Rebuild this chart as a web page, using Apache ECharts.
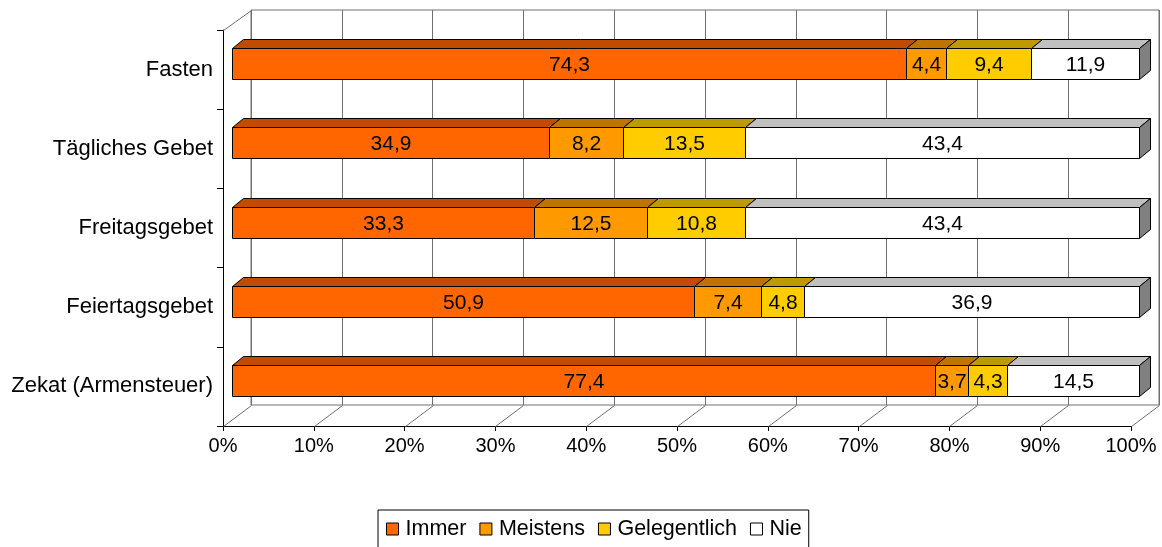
<!DOCTYPE html>
<html>
<head>
<meta charset="utf-8">
<script src="https://cdn.jsdelivr.net/npm/echarts@6/dist/echarts.min.js"></script>
<style>html,body{margin:0;padding:0;background:#fff}#c{width:1162px;height:547px}</style>
</head>
<body>
<div id="c"></div>
<script>
const categories = ['Fasten', 'Tägliches Gebet', 'Freitagsgebet', 'Feiertagsgebet', 'Zekat (Armensteuer)'];
const seriesNames = ['Immer', 'Meistens', 'Gelegentlich', 'Nie'];
const immer = [74.3, 34.9, 33.3, 50.9, 77.4];
const meistens = [4.4, 8.2, 12.5, 7.4, 3.7];
const gelegentlich = [9.4, 13.5, 10.8, 4.8, 4.3];
const nie = [11.9, 43.4, 43.4, 36.9, 14.5];
const xTicks = [0, 10, 20, 30, 40, 50, 60, 70, 80, 90, 100];

const FONT = 'Liberation Sans, Arial, sans-serif';
const frontColors = ['#FF6600', '#FF9900', '#FFCC00', '#FFFFFF'];
const topColors = ['#BF4C00', '#BF7300', '#BF9900', '#C0C0C0'];
const sideColor = '#808080';
const DX = 11, DY = -9, BAR_H = 31;
const WALL_DX = 28, WALL_DY = -21;
const GRID_COLOR = '#707070';

const values = [immer, meistens, gelegentlich, nie];
const totals = categories.map((c, i) => values.reduce((s, arr) => s + arr[i], 0));
const seriesData = values.map((arr, si) => categories.map((c, ci) => {
  let start = 0;
  for (let k = 0; k < si; k++) start += values[k][ci];
  const end = start + arr[ci];
  return [ci, start / totals[ci] * 100, end / totals[ci] * 100, arr[ci]];
}));

const px = v => Math.round(v) + 0.5;

function makeRender(si) {
  const isLast = si === values.length - 1;
  return function (params, api) {
    const ci = api.value(0);
    const a = api.coord([api.value(1), ci]);
    const b = api.coord([api.value(2), ci]);
    const x0 = px(a[0]), x1 = px(b[0]);
    const y0 = px(a[1] - BAR_H / 2), y1 = px(a[1] + BAR_H / 2);
    const stroke = { stroke: '#000', lineWidth: 1, lineJoin: 'miter' };
    const children = [];
    children.push({
      type: 'polygon',
      shape: { points: [[x0, y0], [x0 + DX, y0 + DY], [x1 + DX, y0 + DY], [x1, y0]] },
      style: Object.assign({ fill: topColors[si] }, stroke)
    });
    if (isLast) {
      children.push({
        type: 'polygon',
        shape: { points: [[x1, y0], [x1 + DX, y0 + DY], [x1 + DX, y1 + DY], [x1, y1]] },
        style: Object.assign({ fill: sideColor }, stroke)
      });
    }
    children.push({
      type: 'rect',
      shape: { x: x0, y: y0, width: x1 - x0, height: y1 - y0 },
      style: Object.assign({ fill: frontColors[si] }, stroke)
    });
    children.push({
      type: 'text',
      style: {
        text: api.value(3).toFixed(1).replace('.', ','),
        x: (x0 + x1) / 2, y: (y0 + y1) / 2 + 1,
        align: 'center', verticalAlign: 'middle',
        fill: '#000', font: '21px ' + FONT
      }
    });
    return { type: 'group', children: children };
  };
}

const barSeries = seriesNames.map((name, si) => ({
  name: name,
  type: 'custom',
  xAxisIndex: 1, yAxisIndex: 1,
  renderItem: makeRender(si),
  encode: { x: [1, 2], y: 0 },
  data: seriesData[si],
  itemStyle: { color: frontColors[si], borderColor: '#000', borderWidth: 1 },
  z: 10,
  animation: false
}));

const floorSeries = {
  type: 'custom',
  xAxisIndex: 2, yAxisIndex: 2,
  data: xTicks.map(v => [v, 0]),
  encode: { x: 0, y: 1 },
  silent: true,
  z: 3,
  renderItem: function (params, api) {
    const cs = params.coordSys;
    const x = px(api.coord([api.value(0), 0])[0]);
    const y = px(cs.y + cs.height);
    const children = [{
      type: 'line',
      shape: { x1: x, y1: y, x2: x + WALL_DX, y2: y + WALL_DY },
      style: { stroke: GRID_COLOR, lineWidth: 1 }
    }];
    if (api.value(0) === 0) {
      const yt = px(cs.y);
      children.push({
        type: 'line',
        shape: { x1: x, y1: yt, x2: x + WALL_DX, y2: yt + WALL_DY + 1 },
        style: { stroke: GRID_COLOR, lineWidth: 1 }
      });
    }
    return { type: 'group', children: children };
  }
};

const chart = echarts.init(document.getElementById('c'), null, { renderer: 'canvas' });
chart.setOption({
  animation: false,
  backgroundColor: '#fff',
  textStyle: { fontFamily: FONT },
  grid: [
    { left: 251, right: 3, top: 10, bottom: 142, show: true, borderColor: GRID_COLOR, borderWidth: 1, backgroundColor: 'transparent' },
    { left: 232, right: 23, top: 24, bottom: 127 },
    { left: 223, right: 31, top: 30, bottom: 121 }
  ],
  xAxis: [
    { gridIndex: 0, type: 'value', min: 0, max: 100, interval: 10,
      axisLine: { show: false }, axisTick: { show: false }, axisLabel: { show: false },
      splitLine: { show: true, lineStyle: { color: GRID_COLOR, width: 1 } } },
    { gridIndex: 1, type: 'value', min: 0, max: 100, interval: 10, show: false },
    { gridIndex: 2, type: 'value', min: 0, max: 100, interval: 10,
      axisLine: { show: true, lineStyle: { color: '#000', width: 1 } },
      axisTick: { show: true, length: 5, lineStyle: { color: '#000' } },
      axisLabel: { formatter: '{value}%', fontSize: 20, color: '#000', margin: 10, fontFamily: FONT },
      splitLine: { show: false } }
  ],
  yAxis: [
    { gridIndex: 0, type: 'category', data: categories, inverse: true, show: false },
    { gridIndex: 1, type: 'category', data: categories, inverse: true, show: false },
    { gridIndex: 2, type: 'category', data: categories, inverse: true,
      axisLine: { show: true, lineStyle: { color: '#000', width: 1 } },
      axisTick: { show: true, length: 6, lineStyle: { color: '#000' } },
      axisLabel: { fontSize: 22, color: '#000', margin: 10, fontFamily: FONT },
      splitLine: { show: false } }
  ],
  legend: {
    left: 378, top: 510,
    orient: 'horizontal',
    backgroundColor: '#fff',
    borderColor: '#000', borderWidth: 1,
    padding: [8, 7, 30, 8],
    itemWidth: 12, itemHeight: 12, itemGap: 13,
    icon: 'rect',
    textStyle: { fontSize: 21.5, color: '#000', fontFamily: FONT, padding: [0, 0, 0, 2] },
    data: seriesNames.map((n, i) => ({ name: n, itemStyle: { color: frontColors[i], borderColor: '#000', borderWidth: 1 } }))
  },
  series: barSeries.concat([floorSeries])
});
</script>
</body>
</html>
